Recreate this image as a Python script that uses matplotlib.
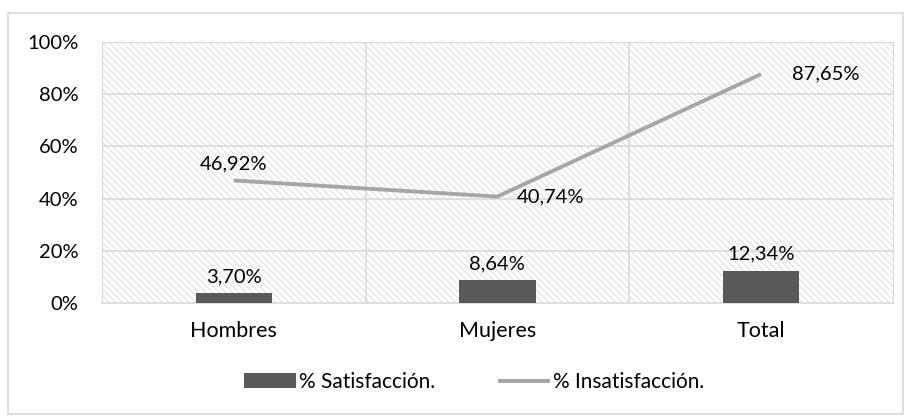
import matplotlib.pyplot as plt
from matplotlib.patches import Rectangle
import numpy as np

plt.rcParams['font.family'] = ['Lato', 'DejaVu Sans']
plt.rcParams['hatch.color'] = '#dcdcdc'
plt.rcParams['hatch.linewidth'] = 0.7

categorias = ['Hombres', 'Mujeres', 'Total']
satisfaccion = [3.70, 8.64, 12.34]
insatisfaccion = [46.92, 40.74, 87.65]
yticks = [0, 20, 40, 60, 80, 100]

fs = 14.5
fig = plt.figure(figsize=(9.08, 4.19), dpi=100)
# outer frame
fig.patches.append(Rectangle((0.009, 0.012), 0.985, 0.958, transform=fig.transFigure,
                             fill=False, edgecolor='#d9d9d9', linewidth=1.2))
ax = fig.add_axes([0.1123, 0.277, 0.871, 0.623])

x = np.arange(len(categorias))
ax.set_xlim(-0.5, 2.5)
ax.set_ylim(0, 100)

# hatched background
ax.add_patch(Rectangle((0, 0), 1, 1, transform=ax.transAxes, facecolor='white',
                       hatch='\\\\\\\\\\', edgecolor='#dcdcdc', linewidth=0, zorder=0))
for yv in yticks[1:]:
    ax.axhline(yv, color='#d9d9d9', linewidth=1.2, zorder=1)
for xv in [0.5, 1.5]:
    ax.axvline(xv, color='#d9d9d9', linewidth=1.2, zorder=1)

ax.bar(x, satisfaccion, width=0.29, color='#595959', zorder=3,
       label='% Satisfacción.')
ax.plot(x, insatisfaccion, color='#a6a6a6', linewidth=2.8, zorder=4,
        label='% Insatisfacción.', solid_capstyle='butt')

fmt = lambda v: ('%.2f' % v).replace('.', ',') + '%'
for xi, v in zip(x, satisfaccion):
    ax.annotate(fmt(v), (xi, v), xytext=(0, 6), textcoords='offset points',
                ha='center', va='bottom', fontsize=fs)
ax.annotate(fmt(insatisfaccion[0]), (x[0], insatisfaccion[0]), xytext=(0, 6),
            textcoords='offset points', ha='center', va='bottom', fontsize=fs)
ax.annotate(fmt(insatisfaccion[1]), (x[1], insatisfaccion[1]), xytext=(14, 0),
            textcoords='offset points', ha='left', va='center', fontsize=fs)
ax.annotate(fmt(insatisfaccion[2]), (x[2], insatisfaccion[2]), xytext=(22, 0),
            textcoords='offset points', ha='left', va='center', fontsize=fs)

ax.set_xticks(x)
ax.set_xticklabels(categorias, fontsize=15.5)
ax.set_yticks(yticks)
ax.set_yticklabels(['%d%%' % v for v in yticks], fontsize=fs)
ax.tick_params(axis='y', length=0, pad=17)
ax.tick_params(axis='x', length=0, pad=13)
for s in ['left', 'right', 'top', 'bottom']:
    ax.spines[s].set_color('#d9d9d9')
ax.spines['bottom'].set_linewidth(1.2)

h, l = ax.get_legend_handles_labels()
order = [l.index('% Satisfacción.'), l.index('% Insatisfacción.')]
fig.legend([h[i] for i in order], [l[i] for i in order], loc='lower center',
           bbox_to_anchor=(0.522, 0.02), ncol=2, frameon=False,
           fontsize=15, handlelength=2.5, handletextpad=0.15, columnspacing=3.0)

plt.savefig('out.png', dpi=100)
